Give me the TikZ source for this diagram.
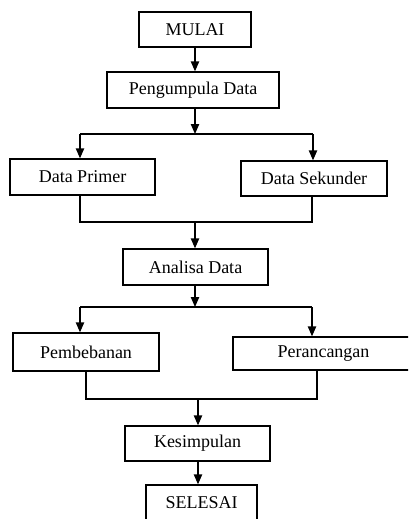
\documentclass[tikz,border=0pt]{standalone}
\usepackage{fontspec}
\setmainfont{Liberation Serif}
\usetikzlibrary{arrows.meta}

\begin{document}
\begin{tikzpicture}[
        x=0.6pt, y=-0.6pt,
        font=\fontsize{10.8}{13}\selectfont,
        box/.style={draw, line width=0.8pt, minimum height=21.6pt, inner sep=2pt, align=center},
        line/.style={line width=0.8pt},
        arr/.style={line, -{Triangle[width=5pt,length=6pt]}}
    ]

        \clip (0,0) rectangle (408,519);

        % ========================================================
        % KOTAK PROSES
        % ========================================================
        \node[box, minimum width=67.2pt, minimum height=21pt] (mulai) at (195,29.5) {MULAI};
        \node[box, minimum width=103.2pt] (kumpul) at (193,90) {Pengumpula Data};

        \node[box, minimum width=87pt] (primer) at (82.5,177) {Data Primer};
        \node[box, minimum width=87.6pt, minimum height=21pt] (sekunder) at (314,178.5) {Data Sekunder};

        \node[box, minimum width=87pt] (analisa) at (195.5,267) {Analisa Data};

        \node[box, minimum width=87.6pt, minimum height=22.8pt] (beban) at (86,352) {Pembebanan};
        \node[box, minimum width=108.6pt, minimum height=19.8pt] (rancang) at (323.5,353.5) {Perancangan};

        \node[box, minimum width=87pt, minimum height=21pt] (simpul) at (197.5,443.5) {Kesimpulan};
        \node[box, minimum width=66.6pt] (selesai) at (201.5,503) {SELESAI};

        % ========================================================
        % TITIK PERCABANGAN
        % ========================================================
        \coordinate (cabangA) at (195,134);
        \coordinate (cabangAkiri) at (80,134);
        \coordinate (cabangAkanan) at (313,134);

        \coordinate (gabungA) at (195,222);
        \coordinate (gabungAkiri) at (80,222);
        \coordinate (gabungAkanan) at (312,222);

        \coordinate (cabangB) at (195,307);
        \coordinate (cabangBkiri) at (80,307);
        \coordinate (cabangBkanan) at (312,307);

        \coordinate (gabungB) at (198,399);
        \coordinate (gabungBkiri) at (86,399);
        \coordinate (gabungBkanan) at (317,399);

        % ========================================================
        % PANAH
        % ========================================================
        \draw[arr] (mulai.south -| 195,0) -- (kumpul.north -| 195,0);

        \draw[arr] (kumpul.south -| cabangA) -- (cabangA);
        \draw[line] (cabangAkiri) -- (cabangAkanan);
        \draw[arr] (cabangAkiri) -- (primer.north -| cabangAkiri);
        \draw[arr] (cabangAkanan) -- (sekunder.north -| cabangAkanan);

        \draw[line] (primer.south -| gabungAkiri) -- (gabungAkiri) -- (gabungAkanan) -- (sekunder.south -| gabungAkanan);
        \draw[arr] (gabungA) -- (analisa.north -| gabungA);

        \draw[arr] (analisa.south -| cabangB) -- (cabangB);
        \draw[line] (cabangBkiri) -- (cabangBkanan);
        \draw[arr] (cabangBkiri) -- (beban.north -| cabangBkiri);
        \draw[arr] (cabangBkanan) -- (rancang.north -| cabangBkanan);

        \draw[line] (beban.south -| gabungBkiri) -- (gabungBkiri) -- (gabungBkanan) -- (rancang.south -| gabungBkanan);
        \draw[arr] (gabungB) -- (simpul.north -| gabungB);

        \draw[arr] (simpul.south -| gabungB) -- (selesai.north -| gabungB);

    \end{tikzpicture}
\end{document}
